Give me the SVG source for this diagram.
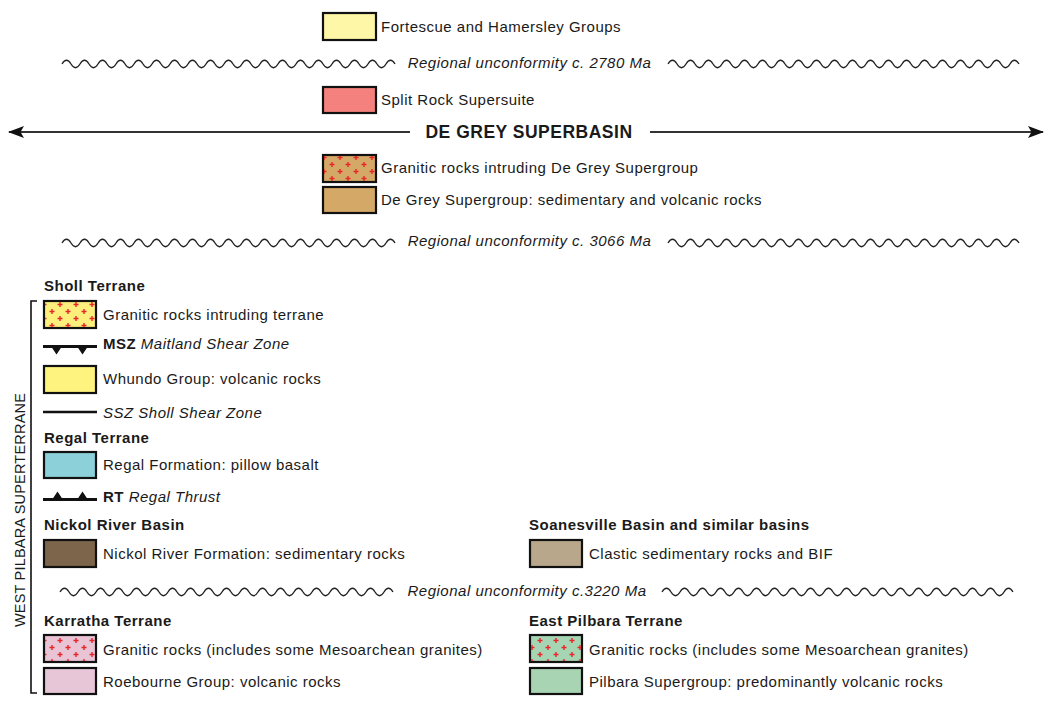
<svg xmlns="http://www.w3.org/2000/svg" width="1050" height="705" viewBox="0 0 1050 705">
<style>
text{font-family:"Liberation Sans",Arial,sans-serif;font-size:15px;fill:#1a1a1a;letter-spacing:0.5px}
.h{font-weight:bold}
.i{font-style:italic}
.box{stroke:#111;stroke-width:2.2}
.wave{fill:none;stroke:#222;stroke-width:1.3}
.ln{stroke:#111;fill:none}
</style>
<defs>
<pattern id="crosses" patternUnits="userSpaceOnUse" width="16" height="14">
<path d="M1.5,3.5h5M4,1v5M9.5,10.5h5M12,8v5" stroke="#e8262a" stroke-width="1.4" fill="none"/>
</pattern>
<path id="waveL" d="M0,0 q4.5,-7.5 9,0 t9,0 t9,0 t9,0 t9,0 t9,0 t9,0 t9,0 t9,0 t9,0 t9,0 t9,0 t9,0 t9,0 t9,0 t9,0 t9,0 t9,0 t9,0 t9,0 t9,0 t9,0 t9,0 t9,0 t9,0 t9,0 t9,0 t9,0 t9,0 t9,0 t9,0 t9,0 t9,0 t9,0 t9,0 t9,0 t9,0"/>
<path id="waveR" d="M0,0 q4.5,-7.5 9,0 t9,0 t9,0 t9,0 t9,0 t9,0 t9,0 t9,0 t9,0 t9,0 t9,0 t9,0 t9,0 t9,0 t9,0 t9,0 t9,0 t9,0 t9,0 t9,0 t9,0 t9,0 t9,0 t9,0 t9,0 t9,0 t9,0 t9,0 t9,0 t9,0 t9,0 t9,0 t9,0 t9,0 t9,0 t9,0 t9,0 t9,0 t9,0"/>
<marker id="arr" viewBox="0 0 16 12" refX="15" refY="6" markerWidth="16" markerHeight="12" markerUnits="userSpaceOnUse" orient="auto-start-reverse">
<path d="M0,0 L16,6 L0,12 L3.5,6 Z" fill="#111"/>
</marker>
</defs>

<g id="connectors">
<use href="#waveL" class="wave" x="62" y="64"/>
<use href="#waveR" class="wave" x="668" y="64"/>
<use href="#waveL" class="wave" x="62" y="243"/>
<use href="#waveR" class="wave" x="668" y="243"/>
<use href="#waveL" class="wave" x="60" y="592"/>
<use href="#waveR" class="wave" x="662" y="592"/>
<line x1="410" y1="132" x2="9" y2="132" stroke="#333" stroke-width="2" marker-end="url(#arr)"/>
<line x1="650" y1="132" x2="1043" y2="132" stroke="#333" stroke-width="2" marker-end="url(#arr)"/>
<path d="M37,301 H31 V693 H37" class="ln" stroke-width="1.6"/>
</g>

<g id="labels">
<text x="529.5" y="68" class="i" text-anchor="middle">Regional unconformity c. 2780 Ma</text>
<text x="529" y="138" class="h" text-anchor="middle" style="font-size:17.5px">DE GREY SUPERBASIN</text>
<text x="529.5" y="246" class="i" text-anchor="middle">Regional unconformity c. 3066 Ma</text>
<text x="527" y="596" class="i" text-anchor="middle">Regional unconformity c.3220 Ma</text>
<text x="44" y="291" class="h">Sholl Terrane</text>
<text x="44" y="443" class="h">Regal Terrane</text>
<text x="44" y="530" class="h">Nickol River Basin</text>
<text x="529" y="530" class="h">Soanesville Basin and similar basins</text>
<text x="44" y="626" class="h">Karratha Terrane</text>
<text x="529" y="626" class="h">East Pilbara Terrane</text>
<text x="25" y="510" text-anchor="middle" transform="rotate(-90 25 510)" style="font-size:14.5px;letter-spacing:0.2px">WEST PILBARA SUPERTERRANE</text>
</g>

<g id="fortescue">
<rect x="323" y="13" width="53" height="27" fill="#fff7a8" class="box"/>
<text x="381" y="32">Fortescue and Hamersley Groups</text>
</g>
<g id="split-rock">
<rect x="323" y="87" width="53" height="26" fill="#f4817e" class="box"/>
<text x="381" y="105">Split Rock Supersuite</text>
</g>
<g id="degrey-granitic">
<rect x="323" y="155" width="53" height="27" fill="#d4a866" class="box"/>
<rect x="324" y="156" width="51" height="25" fill="url(#crosses)"/>
<text x="381" y="173">Granitic rocks intruding De Grey Supergroup</text>
</g>
<g id="degrey-supergroup">
<rect x="323" y="187" width="53" height="26" fill="#d4a866" class="box"/>
<text x="381" y="205">De Grey Supergroup: sedimentary and volcanic rocks</text>
</g>

<g id="sholl-granitic">
<rect x="44" y="301" width="52" height="27" fill="#fdef7c" class="box"/>
<rect x="45" y="302" width="50" height="25" fill="url(#crosses)"/>
<text x="103" y="320">Granitic rocks intruding terrane</text>
</g>
<g id="msz">
<line x1="43" y1="346.5" x2="97" y2="346.5" stroke="#111" stroke-width="3"/>
<path d="M51.5,347 h10 l-5,7.5 Z M77.5,347 h10 l-5,7.5 Z" fill="#111"/>
<text x="103" y="349"><tspan class="h">MSZ</tspan> <tspan class="i">Maitland Shear Zone</tspan></text>
</g>
<g id="whundo">
<rect x="44" y="366" width="52" height="27" fill="#fff37f" class="box"/>
<text x="103" y="384">Whundo Group: volcanic rocks</text>
</g>
<g id="ssz">
<line x1="43" y1="412" x2="97" y2="412" stroke="#111" stroke-width="2.5"/>
<text x="103" y="418" class="i">SSZ Sholl Shear Zone</text>
</g>
<g id="regal">
<rect x="44" y="452" width="52" height="26" fill="#8cd1d9" class="box"/>
<text x="103" y="470">Regal Formation: pillow basalt</text>
</g>
<g id="rt">
<line x1="43" y1="499.5" x2="97" y2="499.5" stroke="#111" stroke-width="3"/>
<path d="M52.5,499 h10 l-5,-7.5 Z M77.5,499 h10 l-5,-7.5 Z" fill="#111"/>
<text x="103" y="502"><tspan class="h">RT</tspan> <tspan class="i">Regal Thrust</tspan></text>
</g>
<g id="nickol">
<rect x="44" y="540" width="52" height="27" fill="#7d654b" class="box"/>
<text x="103" y="559">Nickol River Formation: sedimentary rocks</text>
</g>
<g id="soanesville">
<rect x="530" y="540" width="52" height="27" fill="#b8a78a" class="box"/>
<text x="589" y="559">Clastic sedimentary rocks and BIF</text>
</g>
<g id="karratha-granitic">
<rect x="44" y="635" width="52" height="27" fill="#e8c4d4" class="box"/>
<rect x="45" y="636" width="50" height="25" fill="url(#crosses)"/>
<text x="103" y="655">Granitic rocks (includes some Mesoarchean granites)</text>
</g>
<g id="roebourne">
<rect x="44" y="668" width="52" height="26" fill="#e7c6d7" class="box"/>
<text x="103" y="687">Roebourne Group: volcanic rocks</text>
</g>
<g id="eastpilbara-granitic">
<rect x="530" y="635" width="52" height="27" fill="#a6d5b4" class="box"/>
<rect x="531" y="636" width="50" height="25" fill="url(#crosses)"/>
<text x="589" y="655">Granitic rocks (includes some Mesoarchean granites)</text>
</g>
<g id="pilbara-supergroup">
<rect x="530" y="668" width="52" height="26" fill="#a9d4b3" class="box"/>
<text x="589" y="687">Pilbara Supergroup: predominantly volcanic rocks</text>
</g>
</svg>
